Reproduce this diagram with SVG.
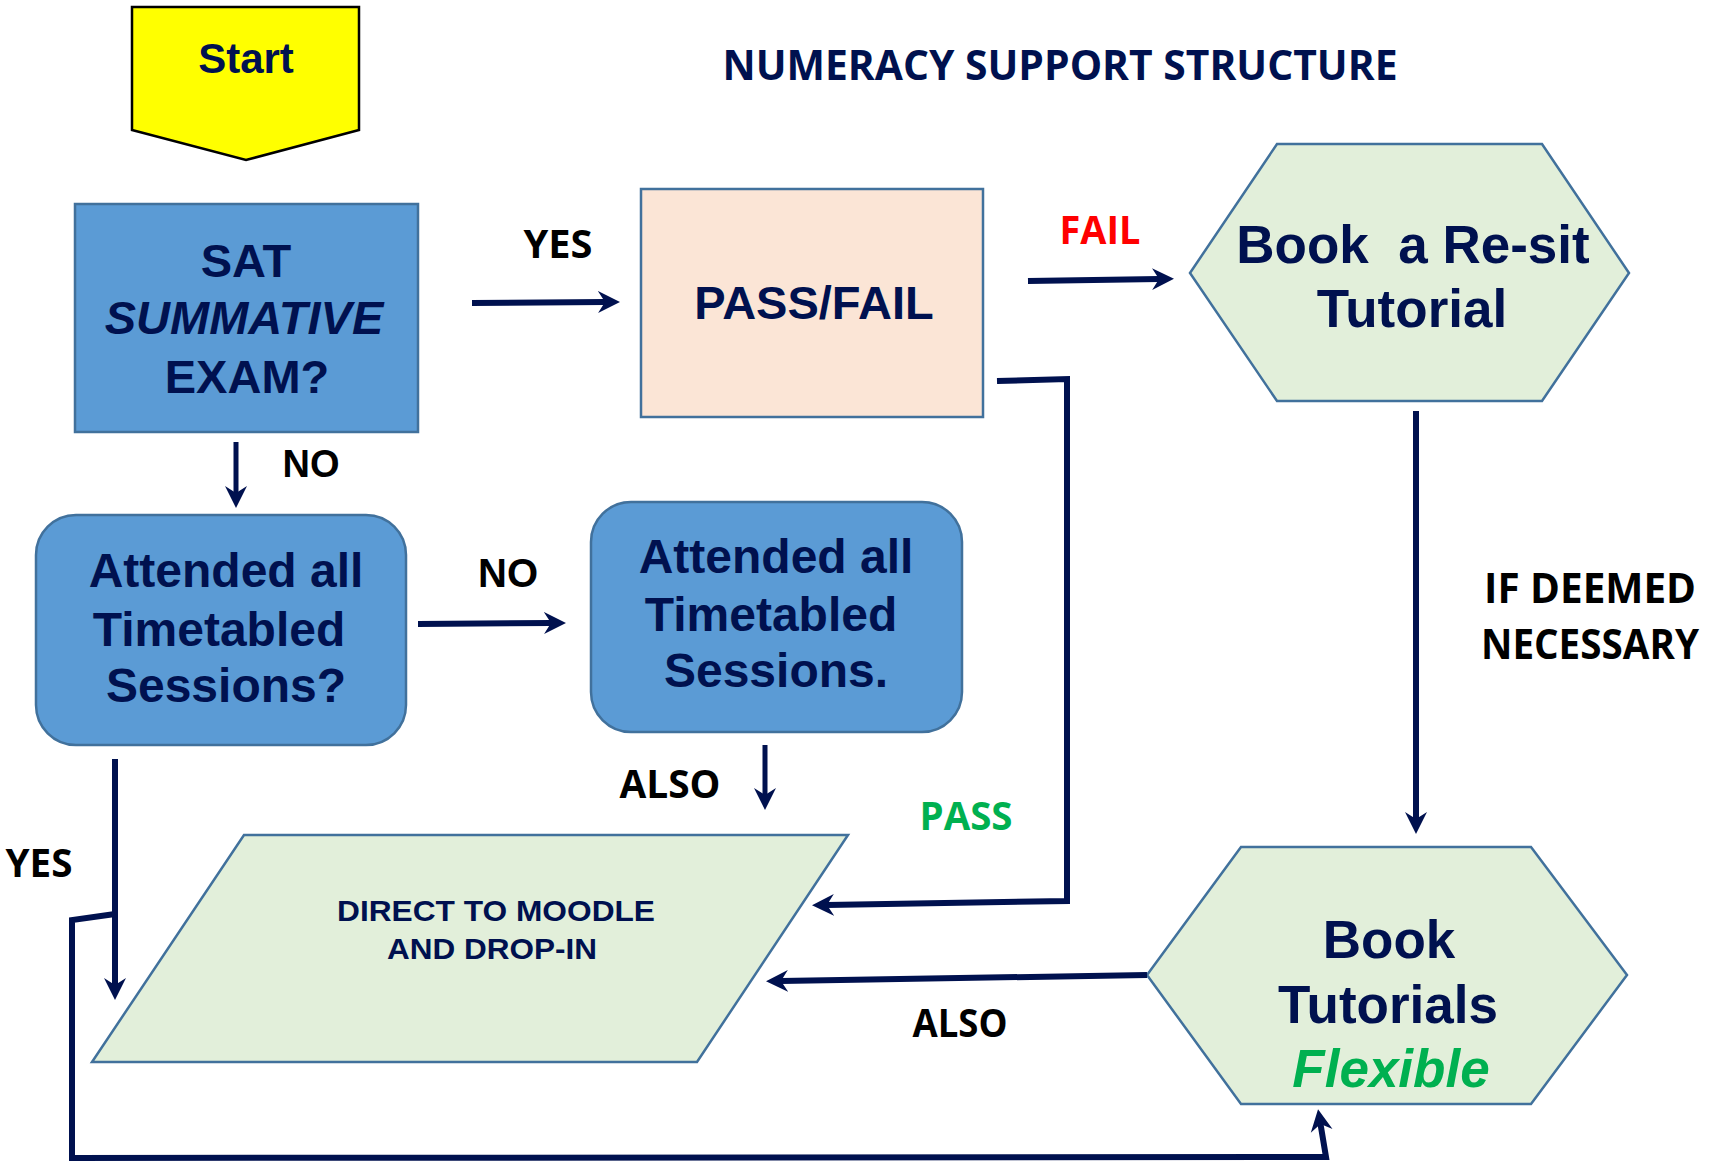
<svg xmlns="http://www.w3.org/2000/svg" width="1710" height="1167" viewBox="0 0 1710 1167">
<style>
.box{fill:#5B9BD5;stroke:#41719C;stroke-width:2.5}
.pf{fill:#FBE5D6;stroke:#41719C;stroke-width:2.5}
.grn{fill:#E2EFDA;stroke:#41719C;stroke-width:2.5}
.t{font-family:"Liberation Sans",Arial,sans-serif;font-weight:bold;fill:#00114F;text-anchor:middle}
.lab{font-family:"Open Sans","Liberation Sans",sans-serif;font-weight:700;fill:#000;text-anchor:middle}
.c{fill:none;stroke:#00114F;stroke-width:6;stroke-linejoin:miter}
</style>
<defs>
<marker id="ah" markerUnits="userSpaceOnUse" viewBox="0 -12 22 24" refX="7" refY="0" markerWidth="22" markerHeight="24" orient="auto">
<path d="M0,-11 L22,0 L0,11 L7,0 z" fill="#00114F"/>
</marker>
</defs>
<rect width="1710" height="1167" fill="#fff"/>

<text class="lab" x="1060" y="80" font-size="41" style="fill:#00114F" textLength="675" lengthAdjust="spacingAndGlyphs">NUMERACY SUPPORT STRUCTURE</text>

<g id="start">
<polygon points="132,7 359,7 359,130 246,160 132,130" fill="#FFFF00" stroke="#000" stroke-width="2.5"/>
<text class="t" x="246" y="73" font-size="42">Start</text>
</g>

<g id="sat">
<rect class="box" x="75" y="204" width="343" height="228"/>
<text class="t" x="246" y="277" font-size="47">SAT</text>
<text class="t" x="244" y="334" font-size="47" font-style="italic">SUMMATIVE</text>
<text class="t" x="247" y="393" font-size="47">EXAM?</text>
</g>

<g id="passfail">
<rect class="pf" x="641" y="189" width="342" height="228"/>
<text class="t" x="814" y="319" font-size="47">PASS/FAIL</text>
</g>

<g id="resit">
<polygon class="grn" points="1190,273 1277,144 1542,144 1629,273 1542,401 1277,401"/>
<text class="t" x="1413" y="263" font-size="53" style="white-space:pre">Book  a Re-sit</text>
<text class="t" x="1412" y="327" font-size="53">Tutorial</text>
</g>

<g id="attended-q">
<rect class="box" x="36" y="515" width="370" height="230" rx="40" ry="40"/>
<text class="t" x="226" y="587" font-size="48">Attended all</text>
<text class="t" x="219" y="646" font-size="48">Timetabled</text>
<text class="t" x="226" y="702" font-size="48">Sessions?</text>
</g>

<g id="attended">
<rect class="box" x="591" y="502" width="371" height="230" rx="40" ry="40"/>
<text class="t" x="776" y="573" font-size="48">Attended all</text>
<text class="t" x="771" y="631" font-size="48">Timetabled</text>
<text class="t" x="776" y="687" font-size="48">Sessions.</text>
</g>

<g id="moodle">
<polygon class="grn" points="244,835 848,835 697,1062 92,1062"/>
<text class="t" x="496" y="921" font-size="30" textLength="318" lengthAdjust="spacingAndGlyphs">DIRECT TO MOODLE</text>
<text class="t" x="492" y="959" font-size="30" textLength="210" lengthAdjust="spacingAndGlyphs">AND DROP-IN</text>
</g>

<g id="tutorials">
<polygon class="grn" points="1147,975 1241,847 1531,847 1627,975 1531,1104 1241,1104"/>
<text class="t" x="1389" y="958" font-size="53">Book</text>
<text class="t" x="1388" y="1023" font-size="53">Tutorials</text>
<text class="t" x="1391" y="1087" font-size="53" font-style="italic" style="fill:#00B050">Flexible</text>
</g>

<g id="connectors">
<line class="c" x1="472" y1="303" x2="605" y2="302" marker-end="url(#ah)"/>
<line class="c" x1="1028" y1="281" x2="1159" y2="279" marker-end="url(#ah)"/>
<polyline class="c" points="997,381 1067,379 1067,901 827,905" marker-end="url(#ah)"/>
<line class="c" x1="236" y1="442" x2="236" y2="493" style="stroke-width:5" marker-end="url(#ah)"/>
<line class="c" x1="418" y1="624" x2="551" y2="623" marker-end="url(#ah)"/>
<line class="c" x1="765" y1="745" x2="765" y2="795" style="stroke-width:5" marker-end="url(#ah)"/>
<line class="c" x1="1416" y1="411" x2="1416" y2="819" marker-end="url(#ah)"/>
<line class="c" x1="1147" y1="975" x2="781" y2="981" marker-end="url(#ah)"/>
<line class="c" x1="115" y1="759" x2="115" y2="985" marker-end="url(#ah)"/>
<polyline class="c" points="115,914 72,920 72,1158 1326,1157 1320.5,1124" marker-end="url(#ah)"/>
</g>

<g id="labels">
<text class="lab" x="558" y="258" font-size="40" textLength="69" lengthAdjust="spacingAndGlyphs">YES</text>
<text class="lab" x="1100" y="244" font-size="40" textLength="81" lengthAdjust="spacingAndGlyphs" style="fill:#FF0000">FAIL</text>
<text class="t" x="311" y="477" font-size="38" style="fill:#000">NO</text>
<text class="t" x="508" y="587" font-size="40" style="fill:#000">NO</text>
<text class="lab" x="670" y="798" font-size="40" textLength="101" lengthAdjust="spacingAndGlyphs">ALSO</text>
<text class="lab" x="966" y="830" font-size="40" textLength="93" lengthAdjust="spacingAndGlyphs" style="fill:#00B050">PASS</text>
<text class="lab" x="39" y="877" font-size="40" textLength="67" lengthAdjust="spacingAndGlyphs">YES</text>
<text class="lab" x="960" y="1037" font-size="40" textLength="95" lengthAdjust="spacingAndGlyphs">ALSO</text>
<text class="lab" x="1590" y="603" font-size="41" textLength="212" lengthAdjust="spacingAndGlyphs">IF DEEMED</text>
<text class="lab" x="1590" y="659" font-size="41" textLength="218" lengthAdjust="spacingAndGlyphs">NECESSARY</text>
</g>
</svg>
